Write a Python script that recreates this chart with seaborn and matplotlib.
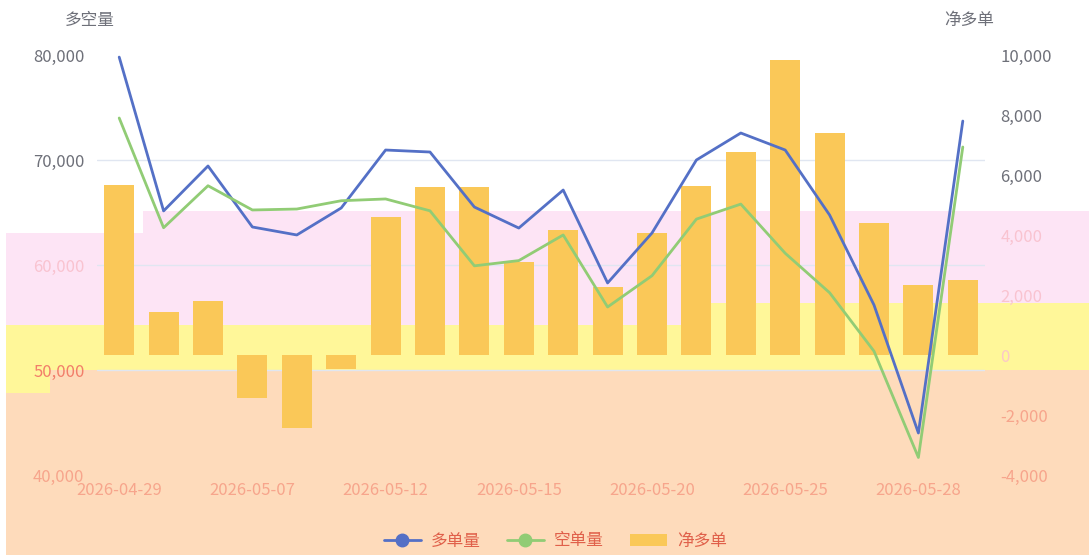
import numpy as np
import pandas as pd
import matplotlib
matplotlib.use("Agg")
import matplotlib.pyplot as plt
from matplotlib.patches import Rectangle, Patch
from matplotlib.lines import Line2D
from matplotlib.ticker import FuncFormatter
import seaborn as sns

# data
dates = ["2026-04-29", "2026-04-30", "2026-05-06", "2026-05-07", "2026-05-08",
         "2026-05-11", "2026-05-12", "2026-05-13", "2026-05-14", "2026-05-15",
         "2026-05-18", "2026-05-19", "2026-05-20", "2026-05-21", "2026-05-22",
         "2026-05-25", "2026-05-26", "2026-05-27", "2026-05-28", "2026-05-29"]
long_vol = [79800, 65150, 69430, 63620, 62860, 65430, 70950, 70760, 65520, 63520,
            67140, 58290, 63050, 70000, 72570, 70950, 64760, 56190, 44000, 73710]
short_vol = [74000, 63550, 67550, 65240, 65330, 66120, 66290, 65160, 59920, 60420,
             62860, 56000, 58980, 64370, 65800, 61120, 57360, 51790, 41670, 71240]
net_long = [5670, 1450, 1810, -1430, -2430, -450, 4600, 5600, 5600, 3100,
            4170, 2270, 4070, 5630, 6770, 9830, 7400, 4400, 2330, 2500]

left_ticks = [40000, 50000, 60000, 70000, 80000]
right_ticks = [-4000, -2000, 0, 2000, 4000, 6000, 8000, 10000]

df = pd.DataFrame({"date": dates, "pos": np.arange(len(dates)),
                   "多单量": long_vol, "空单量": short_vol, "净多单": net_long})

BLUE, GREEN, BAR = "#5470c6", "#91cc75", "#fac858"
GRAY = "#6e7079"
W, H = 1089, 555

sns.set_theme(style="white")
plt.rcParams['font.family'] = ['Noto Sans CJK SC', 'DejaVu Sans']

fig = plt.figure(figsize=(W / 100, H / 100), dpi=100)


def band(x0, y0, x1, y1, color):
    # coloured background bands seen in the reference (pixel box, y from top)
    fig.patches.append(Rectangle((x0 / W, 1 - y1 / H), (x1 - x0) / W, (y1 - y0) / H,
                                 transform=fig.transFigure, facecolor=color,
                                 lw=0, zorder=-1))


PINK, YEL, PEACH = "#fde4f5", "#fff799", "#fedbbb"
band(143, 211, W, 303, PINK)
band(6, 233, 143, 325, PINK)
band(143, 303, 690, 325, PINK)
band(6, 325, W, 370, YEL)
band(690, 303, W, 325, YEL)
band(6, 370, 50, 393, YEL)
band(50, 370, W, H, PEACH)
band(6, 393, 50, H, PEACH)

ax = fig.add_axes([97 / W, 80 / H, 888 / W, 420 / H])
ax2 = ax.twinx()

sns.barplot(data=df, x="date", y="净多单", color=BAR, saturation=1,
            width=0.68, linewidth=0, ax=ax2)
sns.lineplot(data=df, x="pos", y="多单量", color=BLUE, lw=2, ax=ax)
sns.lineplot(data=df, x="pos", y="空单量", color=GREEN, lw=2, ax=ax)

ax.set_zorder(ax2.get_zorder() + 1)
ax.patch.set_visible(False)
ax2.patch.set_visible(False)

ax.set_xlim(-0.5, len(dates) - 0.5)
ax.set_ylim(40000, 80000)
ax2.set_ylim(-4000, 10000)
ax.set_yticks(left_ticks)
ax2.set_yticks(right_ticks)
fmt = FuncFormatter(lambda v, p: f"{v:,.0f}")
ax.yaxis.set_major_formatter(fmt)
ax2.yaxis.set_major_formatter(fmt)
ax.set_xticks(range(0, len(dates), 3))
ax.set_xticklabels(dates[::3])

# split lines follow the left scale but sit under the bars
ax.grid(False)
ax2.set_yticks(np.linspace(-4000, 10000, len(left_ticks)), minor=True)
ax2.yaxis.grid(True, which="minor", color="#e0e6f1", lw=1)
ax2.yaxis.grid(False, which="major")
ax2.xaxis.grid(False)
ax2.set_axisbelow(True)
for a in (ax, ax2):
    for s in a.spines.values():
        s.set_visible(False)
    a.set_xlabel("")
    a.set_ylabel("")
ax.tick_params(axis="y", length=0, pad=9, labelsize=12)
ax2.tick_params(axis="y", which="both", length=0, pad=11, labelsize=12)
ax.tick_params(axis="x", length=0, pad=5, labelsize=12)

left_colors = ["#f7a58c", "#f27e6a", "#f9c3d0", GRAY, GRAY]
right_colors = ["#f7a58c", "#f7a58c", "#fbc8c8", "#f9c3d0", "#f9c3d0", GRAY, GRAY, GRAY]
for lab, c in zip(ax.get_yticklabels(), left_colors):
    lab.set_color(c)
for lab, c in zip(ax2.get_yticklabels(), right_colors):
    lab.set_color(c)
for lab in ax.get_xticklabels():
    lab.set_color("#f7a58c")

fig.text(90 / W, 1 - 20 / H, "多空量", ha="center", va="center", fontsize=12, color=GRAY)
fig.text(969 / W, 1 - 20 / H, "净多单", ha="center", va="center", fontsize=12, color=GRAY)

handles = [Line2D([], [], color=BLUE, lw=2, marker="o", markersize=9),
           Line2D([], [], color=GREEN, lw=2, marker="o", markersize=9),
           Patch(facecolor=BAR, edgecolor="none")]
leg = fig.legend(handles, ["多单量", "空单量", "净多单"], loc="center",
                 bbox_to_anchor=(0.51, 1 - 541 / H), ncol=3, frameon=False,
                 fontsize=12, handlelength=2.2, columnspacing=1.6, handletextpad=0.6)
for t in leg.get_texts():
    t.set_color("#e0604a")

fig.savefig("out.png", dpi=100)
